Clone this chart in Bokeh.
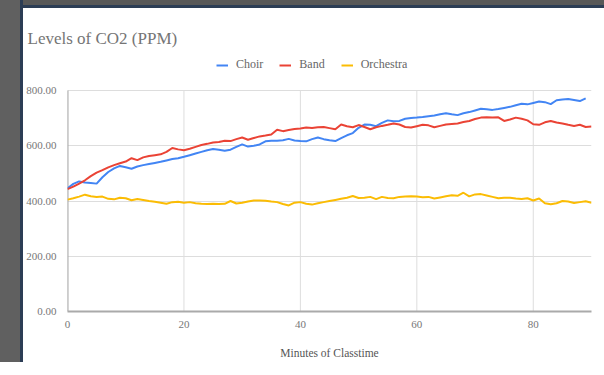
from bokeh.plotting import figure
from bokeh.models import Legend, LegendItem, NumeralTickFormatter, FixedTicker
from bokeh.embed import file_html
from bokeh.resources import INLINE

title_text = "Levels of CO2 (PPM)"
x_label = "Minutes of Classtime"
series_names = ["Choir", "Band", "Orchestra"]

minutes_choir = list(range(0, 90))
minutes_band = list(range(0, 91))
minutes_orch = list(range(0, 91))

choir = [446, 462, 471, 467, 465, 463, 486, 505, 518, 527,
         522, 517, 525, 530, 534, 538, 542, 547, 552, 555,
         560, 566, 572, 578, 584, 588, 586, 582, 586, 596,
         605, 597, 600, 605, 616, 618, 618, 620, 625, 619,
         617, 616, 624, 630, 624, 620, 617, 628, 638, 646,
         665, 677, 676, 671, 683, 692, 689, 690, 698, 701,
         702, 704, 707, 710, 714, 718, 714, 711, 718, 722,
         728, 734, 732, 730, 733, 737, 741, 747, 752, 750,
         755, 760, 758, 751, 765, 768, 769, 766, 762, 772]

band = [443, 452, 463, 475, 490, 503, 512, 522, 530, 537,
        543, 555, 548, 558, 563, 566, 569, 578, 592, 587,
        584, 589, 596, 603, 607, 612, 614, 618, 617, 624,
        630, 622, 628, 634, 637, 641, 658, 653, 657, 661,
        663, 666, 664, 667, 668, 664, 660, 677, 671, 667,
        675, 668, 660, 667, 672, 676, 681, 677, 668, 666,
        671, 676, 674, 667, 672, 677, 679, 681, 686, 690,
        697, 702, 703, 702, 703, 690, 695, 702, 698, 692,
        678, 676, 685, 690, 684, 681, 676, 672, 676, 668, 670]

orchestra = [405, 410, 416, 423, 417, 415, 416, 408, 406, 412,
             410, 403, 407, 404, 400, 397, 394, 390, 396, 397,
             394, 396, 392, 390, 389, 390, 389, 390, 400, 391,
             394, 398, 402, 402, 401, 398, 396, 389, 384, 394,
             396, 390, 387, 392, 396, 400, 404, 408, 412, 418,
             411, 412, 415, 407, 415, 411, 410, 415, 416, 417,
             416, 414, 415, 409, 413, 417, 421, 419, 430, 417,
             424, 425, 420, 415, 410, 412, 412, 409, 407, 410,
             402, 409, 392, 388, 392, 400, 398, 393, 396, 399, 394]

x_ticks = [0, 20, 40, 60, 80]
y_ticks = [0, 200, 400, 600, 800]

colors = ["#4285F4", "#EA4335", "#FBBC04"]
FONT = "Liberation Serif"

# frame reaches up into the legend band so the legend is not clipped
p = figure(width=604, height=362, x_range=(0, 90), y_range=(0, 945),
           output_backend="svg", toolbar_location=None,
           min_border_left=67, min_border_right=13, min_border_top=50,
           min_border_bottom=51)
p.border_fill_color = None
p.background_fill_color = "white"
p.styles = {
    "background-color": "#ffffff",
    "background-repeat": "no-repeat",
    "background-image": ("linear-gradient(to right, #606060 0px, #606060 20px, "
                         "#2c3d55 20px, #2c3d55 23px, rgba(0,0,0,0) 23px), "
                         "linear-gradient(to bottom, #585858 0px, #585858 5px, "
                         "#2c3d55 5px, #2c3d55 8px, #ffffff 8px)"),
}

p.title.text = title_text
p.title.text_font = FONT
p.title.text_font_size = "17px"
p.title.text_font_style = "normal"
p.title.text_color = "#757575"
p.title.align = "left"
p.title.offset = -40
p.title.standoff = 5

# vertical grid lines and y axis line, limited to the 0..800 band
p.segment(x0=x_ticks, y0=y_ticks[0], x1=x_ticks, y1=y_ticks[-1],
          line_color="#dddddd", line_width=1)
p.segment(x0=[x_ticks[0]], y0=[y_ticks[0]], x1=[x_ticks[0]], y1=[y_ticks[-1]],
          line_color="#aaaaaa", line_width=2)

r1 = p.line(minutes_choir, choir, line_color=colors[0], line_width=2)
r2 = p.line(minutes_band, band, line_color=colors[1], line_width=2)
r3 = p.line(minutes_orch, orchestra, line_color=colors[2], line_width=2)

legend = Legend(items=[LegendItem(label=series_names[0], renderers=[r1]),
                       LegendItem(label=series_names[1], renderers=[r2]),
                       LegendItem(label=series_names[2], renderers=[r3])],
                orientation="horizontal", location=(149, 239))
legend.label_text_font = FONT
legend.label_text_font_size = "12px"
legend.label_text_color = "#666666"
legend.glyph_width = 12
legend.glyph_height = 6
legend.spacing = 16
legend.padding = 0
legend.margin = 0
legend.label_standoff = 8
legend.border_line_color = None
legend.background_fill_alpha = 0
p.add_layout(legend)

p.xaxis.ticker = FixedTicker(ticks=x_ticks)
p.yaxis.ticker = FixedTicker(ticks=y_ticks)
p.yaxis.formatter = NumeralTickFormatter(format="0.00")
for ax in (p.xaxis, p.yaxis):
    ax.major_tick_line_color = None
    ax.minor_tick_line_color = None
    ax.major_label_text_font = FONT
    ax.major_label_text_font_size = "11px"
    ax.major_label_text_color = "#777777"
    ax.axis_line_width = 2
p.xaxis.axis_line_color = "#aaaaaa"
p.yaxis.axis_line_color = None
p.xaxis.major_label_standoff = 3
p.yaxis.major_label_standoff = 5
p.xaxis.axis_label = x_label
p.xaxis.axis_label_text_font = FONT
p.xaxis.axis_label_text_font_size = "11.5px"
p.xaxis.axis_label_text_font_style = "normal"
p.xaxis.axis_label_text_color = "#555555"
p.xaxis.axis_label_standoff = 16

p.xgrid.grid_line_color = None
p.ygrid.grid_line_color = "#dddddd"
p.outline_line_color = None

open("out.html", "w").write(file_html(p, INLINE))
